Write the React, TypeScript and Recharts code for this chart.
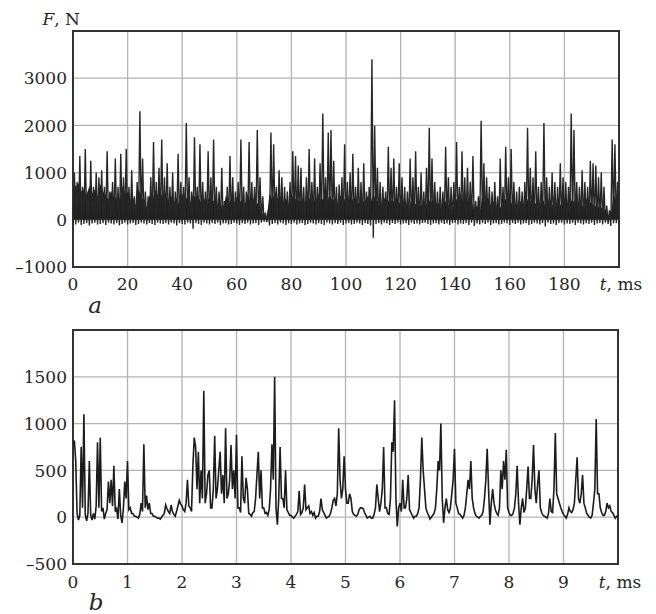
import React from 'react';
import { ComposedChart, Line, Area, XAxis, YAxis, CartesianGrid, ReferenceArea } from 'recharts';

// panel a: 0..200 ms
const topTicksX = [0, 20, 40, 60, 80, 100, 120, 140, 160, 180, 200];
const topTicksY = [-1000, 0, 1000, 2000, 3000, 4000];

// spike top in each 1 ms slot (drawn at t + 0.5)
const topPeak = [
  1000, 800, 1350, 700, 1500, 600, 1250, 700, 1000, 900,
  1050, 700, 1450, 600, 800, 1300, 700, 1400, 900, 1500,
  700, 1050, 500, 800, 2300, 1300, 600, 500, 900, 1650,
  800, 1100, 1700, 900, 1200, 700, 1000, 600, 1400, 800,
  700, 2050, 900, 600, 1750, 700, 1600, 800, 600, 1450,
  900, 1700, 700, 600, 1100, 400, 700, 1350, 900, 600,
  800, 1700, 700, 600, 1650, 800, 700, 1900, 900, 500,
  150, 200, 1850, 1600, 700, 1050, 900, 700, 600, 800,
  1450, 1350, 1150, 1100, 700, 900, 1500, 800, 1300, 700,
  1200, 2250, 900, 1850, 1900, 1250, 700, 750, 900, 1600,
  800, 1000, 1400, 700, 1100, 800, 1200, 600, 700, 3400,
  2000, 1100, 800, 700, 600, 1550, 1100, 1300, 700, 1200,
  900, 700, 600, 1300, 900, 1450, 700, 1000, 600, 1100,
  1950, 1300, 800, 600, 700, 600, 1550, 900, 700, 800,
  1650, 700, 1450, 900, 1100, 800, 1350, 400, 500, 2100,
  1200, 900, 700, 600, 800, 500, 1300, 700, 1550, 900,
  1500, 800, 600, 700, 600, 800, 1950, 1100, 900, 1450,
  700, 800, 2050, 900, 700, 1000, 800, 700, 1200, 900,
  800, 700, 2250, 1900, 800, 700, 1050, 800, 700, 1250,
  1200, 1150, 900, 1000, 700, 300, 200, 1700, 1600, 800,
];

// trough at the start of each 1 ms slot
const topLow = [
  -80, -100, -60, -110, -90, -70, -120, -80, -60, -100,
  -90, -70, -110, -60, -80, -100, -70, -120, -90, -60,
  -100, -80, -70, -110, -90, -60, -80, -100, -70, -90,
  -110, -60, -80, -90, -70, -100, -60, -80, -120, -70,
  -90, -100, -60, -80, -190, -70, -90, -110, -60, -80,
  -100, -70, -90, -60, -110, -80, -70, -100, -90, -60,
  -80, -110, -70, -90, -60, -100, -80, -70, -110, -60,
  -40, -50, -120, -90, -70, -100, -60, -80, -110, -70,
  -90, -60, -100, -80, -70, -110, -90, -60, -80, -100,
  -70, -90, -110, -60, -80, -100, -70, -90, -60, -110,
  -80, -70, -100, -90, -60, -80, -110, -70, -90, -120,
  -380, -90, -70, -100, -60, -80, -110, -70, -90, -60,
  -100, -80, -70, -110, -60, -90, -80, -100, -70, -60,
  -90, -110, -80, -70, -100, -60, -90, -80, -110, -70,
  -60, -100, -80, -90, -70, -110, -60, -130, -80, -100,
  -70, -90, -60, -110, -80, -70, -100, -90, -60, -80,
  -110, -70, -90, -60, -100, -80, -70, -110, -90, -60,
  -80, -100, -70, -140, -60, -90, -80, -110, -70, -60,
  -100, -80, -90, -70, -110, -60, -80, -100, -70, -90,
  -60, -110, -80, -70, -100, -60, -90, -130, -80, -70,
];

// top of the dense dark band, every 1 ms
const topMass = [
  850, 700, 780, 600, 650, 520, 720, 550, 640, 480,
  760, 600, 520, 420, 610, 450, 480, 400, 720, 540,
  600, 430, 470, 300, 660, 500, 380, 260, 520, 350,
  640, 520, 600, 430, 560, 390, 500, 360, 470, 300,
  560, 380, 520, 340, 560, 420, 480, 350, 460, 290,
  540, 420, 390, 250, 360, 200, 520, 340, 450, 320,
  500, 360, 440, 300, 560, 390, 470, 300, 380, 200,
  60, 40, 560, 420, 600, 440, 490, 360, 460, 300,
  560, 400, 490, 360, 450, 310, 540, 400, 520, 330,
  560, 390, 500, 370, 540, 400, 460, 290, 520, 350,
  540, 410, 490, 350, 460, 290, 440, 310, 520, 360,
  560, 380, 400, 260, 470, 300, 490, 360, 440, 310,
  400, 260, 360, 200, 460, 300, 390, 250, 360, 210,
  500, 340, 460, 300, 350, 210, 460, 290, 340, 210,
  500, 360, 560, 380, 500, 340, 400, 200, 300, 150,
  560, 390, 460, 300, 390, 260, 360, 200, 490, 350,
  460, 300, 350, 210, 400, 240, 510, 340, 440, 310,
  400, 260, 460, 290, 410, 250, 350, 210, 400, 260,
  460, 300, 500, 350, 440, 310, 400, 240, 450, 300,
  410, 250, 350, 200, 300, 150, 100, 80, 550, 400,
  450,
];

// panel b: 0..10 ms, sampled every 0.025 ms
const botTicksX = [0, 1, 2, 3, 4, 5, 6, 7, 8, 9, 10];
const botTicksY = [-500, 0, 500, 1000, 1500, 2000];
const botForce = [
  780, 820, 600, 40, -30, 20, 750, 100, 1100, 30, -40, 40, 600, 20, -30, 40, -20, 120, 800, 100,
  850, 60, 100, -20, 40, 80, 380, 150, 400, 120, 550, 60, 90, -20, 300, 20, -60, 100, 380, 200,
  600, 80, 100, 40, 40, 10, 10, 0, -10, 30, 150, 60, 780, 100, 230, 80, 150, 40, 40, 10,
  10, 0, -10, -10, -20, 0, 20, 40, 130, 90, 60, 40, 130, 60, 30, 10, 60, 120, 180, 140,
  120, 80, 60, 150, 400, 120, 100, 60, 550, 850, 750, 300, 700, 150, 500, 200, 1350, 150, 250, 450,
  500, 100, 100, 300, 870, 200, 300, 500, 700, 250, 450, 150, 950, 200, 250, 400, 770, 300, 500, 200,
  880, 100, 100, 50, 650, 200, 150, 420, 300, 40, 30, 10, 50, 60, 200, 450, 700, 200, 500, 100,
  100, 40, 50, 20, 80, 300, 780, 400, 1500, 100, -80, 200, 750, 200, 200, 100, 500, 80, 50, 20,
  20, 0, -10, 10, 30, 60, 280, 30, 50, 100, 350, 80, 100, 120, 40, 60, 20, 50, -10, 10,
  10, 60, 200, 80, 50, 20, -10, 0, 10, 40, 100, 180, 200, 120, 250, 950, 400, 200, 300, 650,
  300, 150, 150, 250, 200, 60, 30, 20, 10, 30, 80, 100, 100, 90, 50, 20, -10, 0, 10, -10,
  -10, 30, 100, 350, 200, 60, 150, 300, 750, 100, 100, 40, 30, 200, 800, 700, 1250, 200, -100, 100,
  150, 60, 400, 100, 100, 200, 450, 80, 50, 20, -10, 10, 10, 40, 100, 400, 850, 500, 300, 100,
  50, 20, -20, 0, 20, 40, 100, 300, 600, 500, 1000, 200, -60, 100, 200, 80, 50, 100, 250, 400,
  730, 150, 100, 40, 30, 10, -10, 20, 100, 250, 400, 300, 600, 200, 100, 40, 10, 0, -10, 10,
  20, 60, 200, 400, 730, 300, -80, 150, 300, 150, 80, 40, 20, 100, 500, 300, 600, 400, 720, 100,
  50, 20, 20, 40, 100, 250, 550, 150, -80, 100, 200, 50, 100, 300, 540, 200, 200, 400, 770, 300,
  150, 350, 500, 100, 50, 20, 10, 0, -10, 40, 200, 60, 50, 300, 900, 250, 200, 150, 100, 60,
  30, 10, -10, 30, 100, 60, 50, 80, 150, 400, 640, 200, 150, 250, 450, 150, 100, 40, 20, 0,
  -10, 20, 150, 300, 1050, 250, 250, 100, 50, 20, 20, 60, 150, 100, 120, 60, 50, 20, -10, 10,
  0,
];

const topData: any[] = [];
topPeak.forEach((p, i) => {
  topData.push({ t: i, f: topLow[i], mass: topMass[i] });
  topData.push({ t: i + 0.5, f: p });
});
topData.push({ t: 200, f: topLow[0], mass: topMass[200] });

const botData = botForce.map((f, i) => ({ t: i * 0.025, f }));

const font = '"DejaVu Serif", serif';
const ink = '#262626';
const gridColor = '#b3b3b3';

const fmt = (v: number) => (v < 0 ? '\u2013' + Math.abs(v) : String(v));

const makeXTick = (last: number) => (props: any) => {
  const { x, y, payload } = props;
  const common = { x, y, dy: '0.71em', textAnchor: 'middle' as const, fill: ink, fontSize: 17, fontFamily: font };
  if (payload.value === last) {
    return (
      <text {...common} x={x + 2}>
        <tspan fontStyle="italic">t</tspan>, ms
      </text>
    );
  }
  return <text {...common}>{payload.value}</text>;
};

const makeYTick = (top: number, showUnit: boolean) => (props: any) => {
  const { x, y, payload } = props;
  if (payload.value === top) {
    if (!showUnit) return <g />;
    return (
      <text x={x + 13} y={y - 6} textAnchor="end" fill={ink} fontSize={17} fontFamily={font}>
        <tspan fontStyle="italic">F</tspan>, N
      </text>
    );
  }
  return (
    <text x={x} y={y} dy="0.36em" textAnchor="end" fill={ink} fontSize={17} fontFamily={font}>
      {fmt(payload.value)}
    </text>
  );
};

export default function App() {
  return (
    <div style={{ position: 'absolute', left: 0, top: 0, width: 656, height: 614, background: '#fff' }}>
      <div style={{ position: 'absolute', left: 0, top: 0 }}>
        <ComposedChart width={656} height={300} data={topData} margin={{ top: 31, right: 37, bottom: 0, left: 0 }}>
          <CartesianGrid stroke={gridColor} strokeWidth={1.3} />
          <XAxis
            type="number"
            dataKey="t"
            domain={[0, 200]}
            ticks={topTicksX}
            interval={0}
            height={33}
            tickSize={0}
            tickMargin={11}
            axisLine={false}
            tickLine={false}
            tick={makeXTick(200)}
          />
          <YAxis
            type="number"
            domain={[-1000, 4000]}
            ticks={topTicksY}
            interval={0}
            width={73}
            tickSize={0}
            tickMargin={6}
            axisLine={false}
            tickLine={false}
            tick={makeYTick(4000, true)}
          />
          <Area
            type="linear"
            dataKey="mass"
            connectNulls
            stroke="none"
            fill="#1c1c1c"
            fillOpacity={1}
            isAnimationActive={false}
          />
          <Line
            type="linear"
            dataKey="f"
            stroke="#262626"
            strokeWidth={1.4}
            dot={false}
            activeDot={false}
            isAnimationActive={false}
          />
          <ReferenceArea x1={0} x2={200} y1={-1000} y2={4000} fill="none" fillOpacity={0} stroke="#333" strokeWidth={2} />
        </ComposedChart>
      </div>
      <div style={{ position: 'absolute', left: 0, top: 300 }}>
        <ComposedChart width={656} height={300} data={botData} margin={{ top: 30, right: 38, bottom: 0, left: 0 }}>
          <CartesianGrid stroke={gridColor} strokeWidth={1.3} />
          <XAxis
            type="number"
            dataKey="t"
            domain={[0, 10]}
            ticks={botTicksX}
            interval={0}
            height={36}
            tickSize={0}
            tickMargin={12}
            axisLine={false}
            tickLine={false}
            tick={makeXTick(10)}
          />
          <YAxis
            type="number"
            domain={[-500, 2000]}
            ticks={botTicksY}
            interval={0}
            width={73}
            tickSize={0}
            tickMargin={6}
            axisLine={false}
            tickLine={false}
            tick={makeYTick(2000, false)}
          />
          <Line
            type="linear"
            dataKey="f"
            stroke="#1c1c1c"
            strokeWidth={1.6}
            dot={false}
            activeDot={false}
            isAnimationActive={false}
          />
          <ReferenceArea x1={0} x2={10} y1={-500} y2={2000} fill="none" fillOpacity={0} stroke="#333" strokeWidth={2} />
        </ComposedChart>
      </div>
      <svg width={656} height={614} style={{ position: 'absolute', left: 0, top: 0, pointerEvents: 'none' }}>
        <text x={95} y={313} textAnchor="middle" fontStyle="italic" fontSize={23} fontFamily={font} fill={ink}>
          a
        </text>
        <text x={96} y={610} textAnchor="middle" fontStyle="italic" fontSize={23} fontFamily={font} fill={ink}>
          b
        </text>
      </svg>
    </div>
  );
}
